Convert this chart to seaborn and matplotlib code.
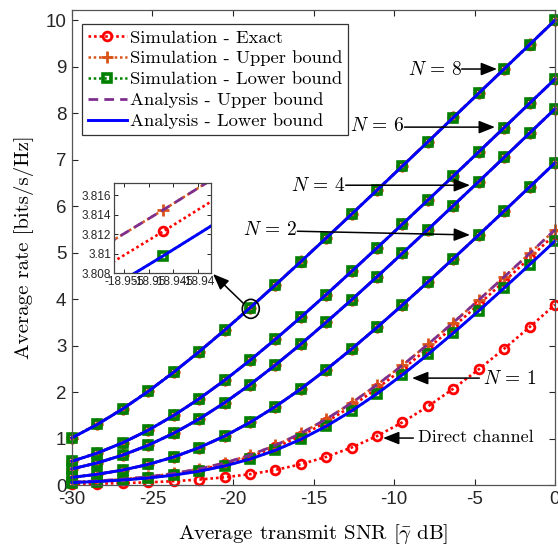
import matplotlib
matplotlib.use("Agg")
import matplotlib.pyplot as plt
import seaborn as sns
from matplotlib.patches import Ellipse

# ---------------- data ----------------
snr_db = [-30.0, -28.421, -26.842, -25.263, -23.684, -22.105, -20.526, -18.947,
          -17.368, -15.789, -14.211, -12.632, -11.053, -9.474, -7.895, -6.316,
          -4.737, -3.158, -1.579, 0.0]

rate_n8 = [1.0172, 1.3062, 1.6410, 2.0172, 2.4287, 2.8692, 3.3322, 3.8123, 4.3053, 4.8074,
           5.3161, 5.8295, 6.3463, 6.8654, 7.3862, 7.9080, 8.4307, 8.9539, 9.4775, 10.0014]
rate_n8_ub = [1.0194, 1.3084, 1.6432, 2.0194, 2.4309, 2.8714, 3.3344, 3.8145, 4.3075, 4.8096,
              5.3183, 5.8317, 6.3485, 6.8676, 7.3884, 7.9102, 8.4329, 8.9561, 9.4797, 10.0036]
rate_n8_lb = [1.0147, 1.3037, 1.6385, 2.0147, 2.4262, 2.8667, 3.3297, 3.8098, 4.3028, 4.8049,
              5.3136, 5.8270, 6.3438, 6.8629, 7.3837, 7.9055, 8.4282, 8.9514, 9.4750, 9.9989]
rate_n6 = [0.5110, 0.6882, 0.9103, 1.1795, 1.4955, 1.8549, 2.2525, 2.6817, 3.1359, 3.6096,
           4.0976, 4.5962, 5.1024, 5.6140, 6.1296, 6.6478, 7.1679, 7.6894, 8.2117, 8.7347]
rate_n4 = [0.3471, 0.4764, 0.6441, 0.8556, 1.1140, 1.4196, 1.7696, 2.1591, 2.5816, 3.0307,
           3.5004, 3.9855, 4.4819, 4.9866, 5.4972, 6.0120, 6.5296, 7.0494, 7.5706, 8.0928]
rate_n2 = [0.1648, 0.2315, 0.3223, 0.4438, 0.6022, 0.8034, 1.0510, 1.3460, 1.6861, 2.0671,
           2.4827, 2.9263, 3.3918, 3.8737, 4.3680, 4.8710, 5.3804, 5.8943, 6.4114, 6.9307]
rate_n1 = [0.0580, 0.0827, 0.1175, 0.1661, 0.2333, 0.3248, 0.4470, 0.6064, 0.8086, 1.0573,
           1.3533, 1.6946, 2.0764, 2.4927, 2.9369, 3.4028, 3.8851, 4.3796, 4.8829, 5.3923]
rate_n1_ub = [0.0621, 0.0885, 0.1257, 0.1776, 0.2490, 0.3460, 0.4749, 0.6422, 0.8532, 1.1111,
              1.4162, 1.7657, 2.1548, 2.5769, 3.0259, 3.4953, 3.9803, 4.4767, 4.9814, 5.4919]
rate_n1_lb = [0.0524, 0.0748, 0.1064, 0.1507, 0.2122, 0.2962, 0.4090, 0.5573, 0.7469, 0.9823,
              1.2650, 1.5939, 1.9648, 2.3720, 2.8090, 3.2693, 3.7475, 4.2389, 4.7399, 5.2479]
rate_direct = [0.0197, 0.0282, 0.0404, 0.0577, 0.0824, 0.1170, 0.1655, 0.2325, 0.3236, 0.4455,
               0.6044, 0.8061, 1.0543, 1.3497, 1.6906, 2.0720, 2.4879, 2.9319, 3.3976, 3.8798]

# (exact, upper bound, lower bound) per number of elements N
curves = [
    (rate_n8, rate_n8_ub, rate_n8_lb),
    (rate_n6, rate_n6, rate_n6),
    (rate_n4, rate_n4, rate_n4),
    (rate_n2, rate_n2, rate_n2),
    (rate_n1, rate_n1_ub, rate_n1_lb),
]

legend_labels = ["Simulation - Exact", "Simulation - Upper bound", "Simulation - Lower bound",
                 "Analysis - Upper bound", "Analysis - Lower bound"]
x_ticks = [-30, -25, -20, -15, -10, -5, 0]
y_ticks = list(range(0, 11))
inset_xticks = [-18.955, -18.95, -18.945, -18.94]
inset_xticklabels = ["-18.955", "-18.95", "-18.945", "-18.94"]
inset_yticks = [3.808, 3.81, 3.812, 3.814, 3.816]
inset_yticklabels = ["3.808", "3.81", "3.812", "3.814", "3.816"]

# ---------------- style ----------------
plt.rcParams["mathtext.fontset"] = "cm"
plt.rcParams["axes.unicode_minus"] = False
TICKFONT = "Liberation Sans"
CMFONT = "cmr10"

RED = "#FF0000"
ORANGE = "#D95319"
GREEN = "#008000"
PURPLE = "#7E2F8E"
BLUE = "#0000FF"
AXC = "#262626"

sty_exact = dict(color=RED, linestyle=(0, (1, 1.1)), linewidth=1.9, marker="o", markersize=6.3,
                 markeredgewidth=2.0, markeredgecolor=RED, markerfacecolor="none")
sty_ub = dict(color=ORANGE, linestyle=(0, (1, 1.1)), linewidth=1.8, marker="+", markersize=9,
              markeredgewidth=2.0, markeredgecolor=ORANGE)
sty_lb = dict(color=GREEN, linestyle=(0, (1, 1.1)), linewidth=1.8, marker="s", markersize=5.6,
              markeredgewidth=2.6, markeredgecolor=GREEN, markerfacecolor="none")
sty_aub = dict(color=PURPLE, linestyle=(0, (3.5, 2.2)), linewidth=2.0, marker=None)
sty_alb = dict(color=BLUE, linestyle="-", linewidth=2.1, marker=None)


def draw_all(ax, clip, with_labels):
    for i, (ex, ub, lb) in enumerate(curves):
        sns.lineplot(x=snr_db, y=ex, ax=ax, errorbar=None, sort=False, clip_on=clip,
                     label=legend_labels[0] if (with_labels and i == 0) else None, **sty_exact)
    sns.lineplot(x=snr_db, y=rate_direct, ax=ax, errorbar=None, sort=False, clip_on=clip, **sty_exact)
    for i, (ex, ub, lb) in enumerate(curves):
        sns.lineplot(x=snr_db, y=ub, ax=ax, errorbar=None, sort=False, clip_on=clip,
                     label=legend_labels[1] if (with_labels and i == 0) else None, **sty_ub)
    for i, (ex, ub, lb) in enumerate(curves):
        sns.lineplot(x=snr_db, y=lb, ax=ax, errorbar=None, sort=False, clip_on=clip,
                     label=legend_labels[2] if (with_labels and i == 0) else None, **sty_lb)
    for i, (ex, ub, lb) in enumerate(curves):
        sns.lineplot(x=snr_db, y=ub, ax=ax, errorbar=None, sort=False, clip_on=clip,
                     label=legend_labels[3] if (with_labels and i == 0) else None, **sty_aub)
    for i, (ex, ub, lb) in enumerate(curves):
        sns.lineplot(x=snr_db, y=lb, ax=ax, errorbar=None, sort=False, clip_on=clip,
                     label=legend_labels[4] if (with_labels and i == 0) else None, **sty_alb)


fig = plt.figure(figsize=(5.58, 5.44), dpi=100)
ax = fig.add_axes([72 / 558, (544 - 485) / 544, 483 / 558, 475 / 544])

draw_all(ax, clip=False, with_labels=True)

ax.set_xlim(-30, 0)
ax.set_ylim(0, 10.22)
ax.set_xticks(x_ticks)
ax.set_yticks(y_ticks)
ax.set_xticklabels([str(t) for t in x_ticks], fontfamily=TICKFONT, fontsize=13.5, color=AXC)
ax.set_yticklabels([str(t) for t in y_ticks], fontfamily=TICKFONT, fontsize=13.5, color=AXC)
ax.tick_params(direction="in", top=True, right=True, length=4, width=0.8, color=AXC, pad=4)
for sp in ax.spines.values():
    sp.set_color("#555555")
    sp.set_linewidth(0.9)

ax.set_xlabel(r"Average transmit SNR [$\bar{\gamma}$ dB]", fontfamily=CMFONT, fontsize=15)
ax.set_ylabel("Average rate [bits/s/Hz]", fontfamily=CMFONT, fontsize=15)
ax.xaxis.set_label_coords(0.5, -0.078)
ax.yaxis.set_label_coords(-0.078, 0.5)

leg = ax.legend(loc="upper left", bbox_to_anchor=(0.0207, 0.9705), borderaxespad=0,
                prop={"family": CMFONT, "size": 13.4}, frameon=True, fancybox=False,
                edgecolor="#333333", framealpha=1, handlelength=2.1, handletextpad=0.18,
                borderpad=0.3, labelspacing=0.26)
leg.get_frame().set_linewidth(0.9)

# annotations
arrow_kw = dict(arrowstyle="-|>,head_length=0.7,head_width=0.28", color="k", lw=1.1,
                shrinkA=0, shrinkB=0, mutation_scale=14)
ann_font = dict(fontsize=14, color="k")
ax.text(-5.8, 8.95, r"$N\,=\,8$", ha="right", va="center", **ann_font)
ax.annotate("", xy=(-3.60, 8.95), xytext=(-5.8, 8.95), arrowprops=arrow_kw)
ax.text(-9.35, 7.74, r"$N\,=\,6$", ha="right", va="center", **ann_font)
ax.annotate("", xy=(-3.73, 7.70), xytext=(-9.35, 7.70), arrowprops=arrow_kw)
ax.text(-13.0, 6.45, r"$N\,=\,4$", ha="right", va="center", **ann_font)
ax.annotate("", xy=(-5.28, 6.45), xytext=(-13.0, 6.45), arrowprops=arrow_kw)
ax.text(-16.0, 5.49, r"$N\,=\,2$", ha="right", va="center", **ann_font)
ax.annotate("", xy=(-5.28, 5.38), xytext=(-16.0, 5.46), arrowprops=arrow_kw)
ax.text(-4.45, 2.30, r"$N\,=\,1$", ha="left", va="center", **ann_font)
ax.annotate("", xy=(-8.88, 2.30), xytext=(-4.7, 2.30), arrowprops=arrow_kw)
ax.text(-8.5, 1.03, "Direct channel", ha="left", va="center", fontfamily=CMFONT, fontsize=13)
ax.annotate("", xy=(-10.68, 1.01), xytext=(-8.8, 1.01), arrowprops=arrow_kw)

ax.add_patch(Ellipse((-18.895, 3.79), width=1.056, height=0.409, fill=False,
                     edgecolor="k", linewidth=1.2, zorder=10, clip_on=False))
ax.annotate("", xy=(-21.24, 4.54), xytext=(-19.38, 3.916), arrowprops=arrow_kw)

# inset
axin = fig.add_axes([114 / 558, (544 - 273.3) / 544, 97 / 558, 90 / 544])
draw_all(axin, clip=True, with_labels=False)
axin.set_xlim(-18.9571, -18.9373)
axin.set_ylim(3.808, 3.8172)
axin.set_xticks(inset_xticks)
axin.set_xticklabels(inset_xticklabels, fontfamily=TICKFONT, fontsize=8.5, color=AXC)
axin.set_yticks(inset_yticks)
axin.set_yticklabels(inset_yticklabels, fontfamily=TICKFONT, fontsize=8.5, color=AXC)
axin.tick_params(direction="in", top=True, right=True, length=3, width=0.7, color=AXC, pad=2)
for sp in axin.spines.values():
    sp.set_color("#444444")
    sp.set_linewidth(0.9)
axin.set_xlabel("")
axin.set_ylabel("")
if axin.get_legend() is not None:
    axin.get_legend().remove()

fig.savefig("out.png", dpi=100)
